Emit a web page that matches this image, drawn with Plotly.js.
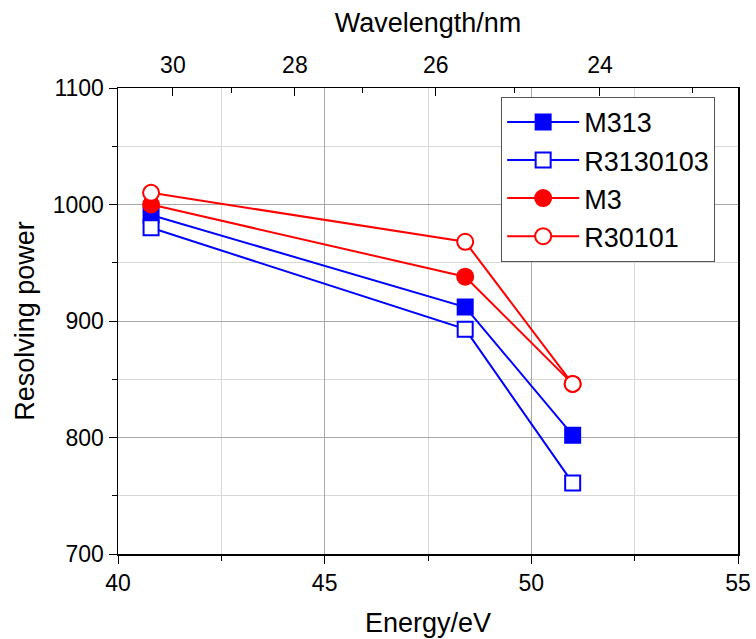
<!DOCTYPE html>
<html>
<head>
<meta charset="utf-8">
<script src="https://cdn.plot.ly/plotly-3.0.1.min.js"></script>
<style>html,body{margin:0;padding:0;background:#fff}#chart{width:756px;height:639px}</style>
</head>
<body>
<div id="chart"></div>
<script>
// Data
const energy = [40.8, 48.4, 51.0];
const m313 = [991, 912, 802];
const r3130103 = [980, 893, 761];
const m3 = [1000, 938, 846];
const r30101 = [1010, 968, 846];
const seriesNames = ["M313", "R3130103", "M3", "R30101"];

// Top axis: wavelength ticks
const wavelengthMajor = [30, 28, 26, 24];
const wavelengthMinor = [29, 27, 25, 23];
const hc = 1239.84; // eV*nm
const toE = l => hc / l;

const font = "Arial, 'Liberation Sans', sans-serif";
const blue = "#0000ff", red = "#ff0000";

function trace(y, name, color, symbol, filled) {
  return {
    x: energy, y: y, name: name, type: "scatter", mode: "lines+markers",
    line: {color: color, width: 2},
    marker: {symbol: symbol, size: symbol === "square" ? 15 : 16,
             color: filled ? color : "#ffffff",
             line: {color: color, width: 2}}
  };
}

const data = [
  trace(m313, seriesNames[0], blue, "square", true),
  trace(r3130103, seriesNames[1], blue, "square", false),
  trace(m3, seriesNames[2], red, "circle", true),
  trace(r30101, seriesNames[3], red, "circle", false),
  {x: [40, 55], y: [null, null], xaxis: "x2", yaxis: "y", showlegend: false, hoverinfo: "skip", mode: "lines"}
];

const layout = {
  width: 756, height: 639,
  margin: {l: 118, r: 18, t: 88, b: 85},
  paper_bgcolor: "#fff", plot_bgcolor: "#fff",
  font: {family: font, size: 23, color: "#000"},
  showlegend: true,
  legend: {
    x: 0.618, y: 0.981, xanchor: "left", yanchor: "top",
    bgcolor: "#fff", bordercolor: "#555", borderwidth: 1,
    font: {family: font, size: 27, color: "#000"},
    itemwidth: 72, tracegroupgap: 0
  },
  xaxis: {
    range: [40, 55], tickmode: "linear", tick0: 40, dtick: 5,
    ticks: "outside", ticklen: 8, tickwidth: 1, tickcolor: "#000",
    showline: true, linecolor: "#000", linewidth: 1.5,
    showgrid: true, gridcolor: "#a8a8a8", gridwidth: 1,
    zeroline: false,
    minor: {tick0: 40, dtick: 2.5, ticks: "outside", ticklen: 5, tickcolor: "#000",
            showgrid: true, gridcolor: "#d8d8d8", gridwidth: 1},
    tickfont: {family: font, size: 23},
    title: {text: "Energy/eV", font: {family: font, size: 27}, standoff: 18}
  },
  xaxis2: {
    range: [40, 55], overlaying: "x", side: "top", anchor: "y",
    tickmode: "array", tickvals: wavelengthMajor.map(toE), ticktext: wavelengthMajor.map(String),
    ticks: "inside", ticklen: 8, tickwidth: 1, tickcolor: "#000",
    showline: true, linecolor: "#000", linewidth: 1.5,
    showgrid: false, zeroline: false, ticklabelstandoff: 4,
    minor: {tickmode: "array", tickvals: wavelengthMinor.map(toE), ticks: "inside", ticklen: 5,
            tickcolor: "#000", showgrid: false},
    tickfont: {family: font, size: 23},
    title: {text: "Wavelength/nm", font: {family: font, size: 27}, standoff: 12}
  },
  yaxis: {
    range: [700, 1100], tickmode: "linear", tick0: 700, dtick: 100,
    ticks: "outside", ticklen: 8, tickwidth: 1, tickcolor: "#000",
    showline: true, linecolor: "#000", linewidth: 1.5, mirror: true,
    showgrid: true, gridcolor: "#a8a8a8", gridwidth: 1, zeroline: false,
    minor: {tick0: 700, dtick: 50, ticks: "outside", ticklen: 5, tickcolor: "#000",
            showgrid: true, gridcolor: "#d8d8d8", gridwidth: 1},
    tickfont: {family: font, size: 23},
    title: {text: "Resolving power", font: {family: font, size: 27}, standoff: 10}
  }
};

Plotly.newPlot("chart", data, layout, {displayModeBar: false, staticPlot: true});
</script>
</body>
</html>
